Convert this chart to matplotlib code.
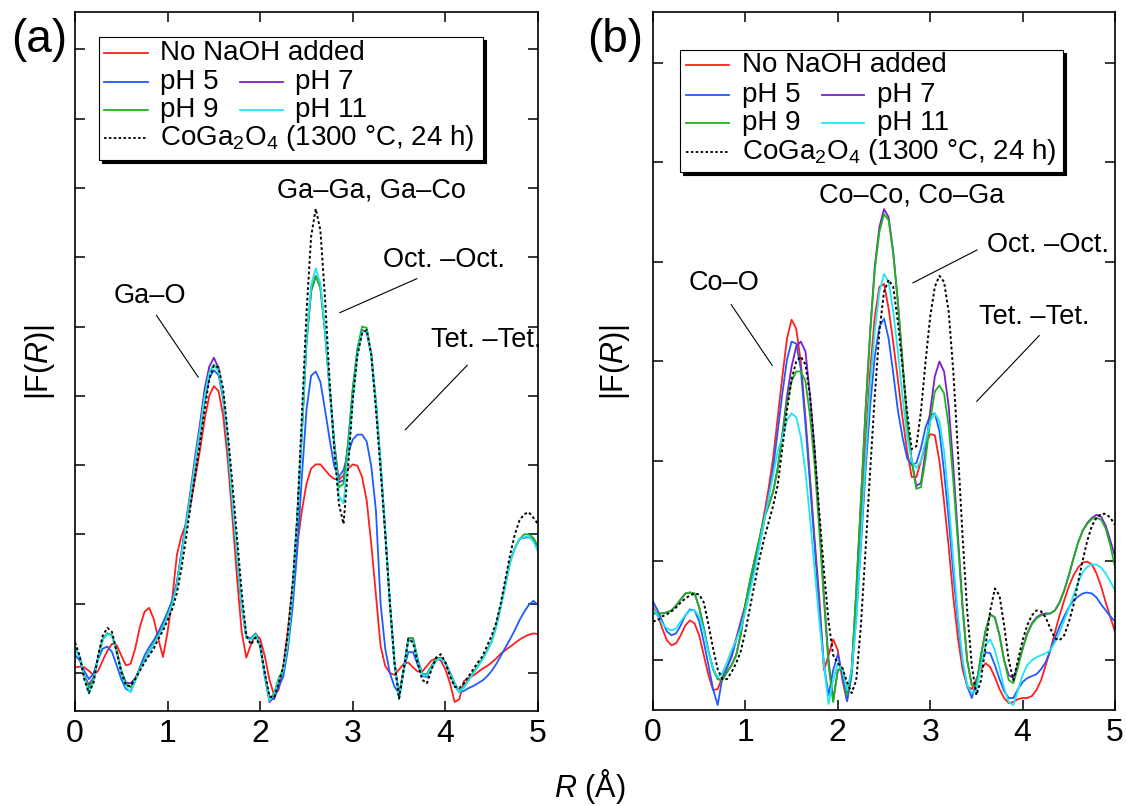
import numpy as np
import matplotlib
matplotlib.use('Agg')
import matplotlib.pyplot as plt
import matplotlib.patches as mpatches
import matplotlib.transforms as mtransforms

plt.rcParams['font.family'] = ['Liberation Sans', 'DejaVu Sans']
plt.rcParams['mathtext.fontset'] = 'custom'
plt.rcParams['mathtext.rm'] = 'Liberation Sans'
plt.rcParams['mathtext.it'] = 'Liberation Sans:italic'

# R grid (Angstrom), step 0.05
r = np.round(np.arange(0, 5.0001, 0.05), 2)

# ---- panel (a): Ga K-edge |F(R)|, arbitrary units
a_none = [0.08, 0.09, 0.08, 0.03, -0.03, 0.03, 0.18, 0.32, 0.42, 0.40,
          0.25, 0.11, 0.13, 0.35, 0.66, 0.88, 0.94, 0.78, 0.49, 0.23,
          0.59, 1.07, 1.70, 1.98, 2.15, 2.44, 2.83, 3.22, 3.66, 4.00,
          4.14, 4.07, 3.71, 3.07, 2.24, 1.37, 0.59, 0.22, 0.41, 0.56,
          0.49, 0.24, -0.10, -0.32, -0.24, 0.10, 0.63, 1.27, 1.85, 2.34,
          2.73, 2.95, 3.01, 3.01, 2.93, 2.85, 2.80, 2.79, 2.85, 2.95,
          3.01, 2.99, 2.83, 2.49, 1.85, 1.12, 0.39, 0.10, 0.00, -0.03,
          0.05, 0.13, 0.15, 0.08, 0.02, 0.02, 0.10, 0.18, 0.21, 0.18,
          0.05, -0.15, -0.42, -0.38, -0.12, -0.07, -0.04, 0.01, 0.06, 0.10,
          0.15, 0.21, 0.28, 0.33, 0.38, 0.43, 0.48, 0.52, 0.55, 0.57,
          0.56]
a_ph5 = [0.26, 0.18, 0.03, -0.09, -0.01, 0.20, 0.35, 0.38, 0.30, 0.11,
         -0.09, -0.23, -0.27, -0.11, 0.08, 0.25, 0.37, 0.47, 0.59, 0.73,
         0.88, 1.05, 1.30, 1.71, 2.12, 2.55, 3.02, 3.45, 3.92, 4.26,
         4.37, 4.30, 3.95, 3.30, 2.47, 1.70, 0.98, 0.52, 0.50, 0.57,
         0.40, -0.03, -0.36, -0.38, -0.20, -0.05, 0.35, 0.95, 1.76, 2.83,
         3.80, 4.29, 4.35, 4.20, 3.80, 3.37, 2.98, 2.83, 2.93, 3.17,
         3.37, 3.44, 3.44, 3.34, 2.98, 2.34, 1.00, 0.35, 0.00, -0.20,
         -0.30, 0.05, 0.30, 0.30, 0.12, -0.04, -0.06, 0.07, 0.18, 0.22,
         0.14, -0.02, -0.18, -0.28, -0.26, -0.22, -0.19, -0.15, -0.11, -0.05,
         0.03, 0.13, 0.25, 0.37, 0.49, 0.62, 0.76, 0.88, 0.98, 1.04,
         0.98]
a_ph7 = [0.36, 0.23, -0.04, -0.17, -0.07, 0.23, 0.49, 0.57, 0.54, 0.32,
         0.03, -0.14, -0.15, -0.08, 0.06, 0.18, 0.30, 0.42, 0.54, 0.66,
         0.83, 1.00, 1.30, 1.75, 2.20, 2.65, 3.15, 3.60, 4.10, 4.42,
         4.55, 4.40, 4.00, 3.32, 2.49, 1.71, 0.98, 0.51, 0.49, 0.56,
         0.39, -0.05, -0.42, -0.35, -0.12, 0.03, 0.44, 1.17, 2.24, 3.46,
         4.78, 5.51, 5.73, 5.56, 4.93, 4.10, 3.32, 2.75, 2.78, 3.32,
         4.10, 4.66, 4.95, 4.92, 4.59, 3.90, 3.02, 2.05, 1.02, 0.15,
         -0.34, 0.05, 0.50, 0.50, 0.20, -0.02, -0.02, 0.10, 0.20, 0.22,
         0.15, 0.00, -0.15, -0.27, -0.20, -0.10, 0.00, 0.10, 0.20, 0.32,
         0.46, 0.68, 0.98, 1.29, 1.61, 1.80, 1.93, 1.95, 1.96, 1.92,
         1.80]
a_ph9 = [0.36, 0.23, -0.04, -0.22, -0.09, 0.23, 0.49, 0.57, 0.54, 0.32,
         0.03, -0.16, -0.21, -0.09, 0.06, 0.18, 0.30, 0.42, 0.54, 0.66,
         0.83, 1.00, 1.27, 1.71, 2.15, 2.59, 3.07, 3.51, 4.00, 4.34,
         4.45, 4.37, 4.00, 3.32, 2.49, 1.71, 0.98, 0.51, 0.49, 0.56,
         0.39, -0.05, -0.39, -0.29, -0.07, 0.05, 0.44, 1.17, 2.24, 3.46,
         4.78, 5.51, 5.73, 5.56, 4.93, 4.10, 3.32, 2.68, 2.73, 3.32,
         4.10, 4.68, 5.00, 4.98, 4.59, 3.90, 3.02, 2.05, 1.02, 0.15,
         -0.34, 0.05, 0.50, 0.50, 0.20, -0.02, -0.02, 0.10, 0.20, 0.22,
         0.15, 0.00, -0.15, -0.27, -0.20, -0.10, 0.00, 0.10, 0.20, 0.32,
         0.46, 0.68, 0.98, 1.29, 1.61, 1.80, 1.93, 2.00, 2.00, 1.95,
         1.83]
a_ph11 = [0.36, 0.23, -0.05, -0.30, -0.12, 0.22, 0.48, 0.56, 0.53, 0.30,
          0.00, -0.20, -0.28, -0.12, 0.05, 0.17, 0.29, 0.41, 0.53, 0.65,
          0.82, 0.99, 1.26, 1.70, 2.14, 2.58, 3.06, 3.50, 3.99, 4.33,
          4.44, 4.36, 3.99, 3.31, 2.48, 1.70, 0.97, 0.50, 0.48, 0.55,
          0.38, -0.06, -0.40, -0.32, -0.10, 0.03, 0.44, 1.18, 2.26, 3.50,
          4.85, 5.60, 5.84, 5.62, 4.95, 4.10, 3.25, 2.55, 2.45, 3.15,
          3.95, 4.60, 4.92, 4.93, 4.56, 3.88, 3.00, 2.03, 1.00, 0.12,
          -0.38, 0.03, 0.47, 0.45, 0.18, -0.03, -0.04, 0.08, 0.18, 0.21,
          0.14, -0.01, -0.16, -0.28, -0.21, -0.11, -0.01, 0.09, 0.19, 0.31,
          0.45, 0.67, 0.97, 1.28, 1.60, 1.80, 1.93, 1.96, 1.97, 1.90,
          1.75]
a_ref = [0.44, 0.25, -0.09, -0.29, -0.14, 0.25, 0.54, 0.65, 0.59, 0.30,
         0.01, -0.18, -0.19, -0.09, 0.03, 0.15, 0.25, 0.35, 0.49, 0.61,
         0.76, 0.92, 1.15, 1.51, 1.95, 2.44, 2.88, 3.32, 3.80, 4.24,
         4.44, 4.41, 4.10, 3.46, 2.73, 1.95, 1.17, 0.54, 0.41, 0.51,
         0.39, 0.00, -0.34, -0.36, -0.15, 0.10, 0.59, 1.27, 2.24, 3.71,
         5.20, 6.30, 6.70, 6.39, 5.41, 4.20, 3.22, 2.44, 2.15, 2.98,
         3.95, 4.59, 4.90, 4.95, 4.59, 3.80, 2.93, 2.00, 1.02, 0.15,
         -0.37, 0.05, 0.49, 0.44, 0.15, -0.10, -0.15, 0.05, 0.22, 0.27,
         0.15, -0.05, -0.20, -0.22, -0.15, -0.05, 0.05, 0.15, 0.24, 0.39,
         0.54, 0.73, 1.02, 1.37, 1.71, 2.00, 2.20, 2.29, 2.32, 2.24,
         2.15]

# ---- panel (b): Co K-edge |F(R)|, arbitrary units
b_none = [0.54, 0.45, 0.32, 0.20, 0.15, 0.17, 0.25, 0.35, 0.40, 0.37,
          0.25, 0.05, -0.15, -0.30, -0.29, -0.17, -0.07, 0.05, 0.22, 0.39,
          0.56, 0.76, 0.97, 1.20, 1.45, 1.72, 2.03, 2.44, 2.85, 3.23,
          3.42, 3.33, 2.99, 2.44, 1.83, 1.21, 0.63, -0.10, 0.05, 0.21,
          0.10, -0.20, -0.41, -0.10, 0.55, 1.35, 2.15, 2.90, 3.45, 3.75,
          3.78, 3.53, 3.19, 2.82, 2.44, 2.10, 1.84, 1.84, 2.00, 2.17,
          2.27, 2.26, 2.00, 1.59, 1.14, 0.63, 0.22, -0.09, -0.26, -0.29,
          -0.19, -0.09, -0.03, -0.07, -0.17, -0.29, -0.38, -0.43, -0.42, -0.39,
          -0.38, -0.38, -0.36, -0.30, -0.20, -0.05, 0.10, 0.28, 0.45, 0.60,
          0.74, 0.85, 0.93, 0.98, 0.99, 0.96, 0.87, 0.74, 0.58, 0.43,
          0.29]
b_ph5 = [0.59, 0.50, 0.39, 0.29, 0.25, 0.27, 0.35, 0.45, 0.51, 0.50,
         0.39, 0.18, -0.05, -0.29, -0.45, -0.18, -0.08, 0.03, 0.20, 0.37,
         0.55, 0.74, 0.94, 1.15, 1.38, 1.64, 1.93, 2.30, 2.68, 3.02,
         3.20, 3.18, 2.92, 2.37, 1.76, 1.14, 0.53, -0.05, -0.35, -0.10,
         0.06, -0.15, -0.41, -0.15, 0.45, 1.15, 1.90, 2.55, 3.05, 3.35,
         3.43, 3.23, 2.88, 2.51, 2.24, 2.03, 1.96, 1.98, 2.13, 2.34,
         2.46, 2.48, 2.30, 1.89, 1.42, 0.87, 0.39, -0.02, -0.26, -0.38,
         -0.22, -0.02, 0.08, 0.07, -0.05, -0.19, -0.31, -0.38, -0.38, -0.29,
         -0.22, -0.18, -0.16, -0.14, -0.09, -0.02, 0.10, 0.22, 0.34, 0.44,
         0.53, 0.60, 0.64, 0.67, 0.68, 0.67, 0.63, 0.56, 0.50, 0.44,
         0.39]
b_ph7 = [0.47, 0.47, 0.47, 0.48, 0.50, 0.55, 0.61, 0.67, 0.68, 0.67,
         0.53, 0.32, 0.09, -0.09, -0.19, -0.20, -0.12, -0.05, 0.05, 0.26,
         0.56, 0.80, 1.01, 1.21, 1.42, 1.55, 1.69, 1.93, 2.27, 2.65,
         2.95, 3.15, 3.20, 3.10, 2.65, 2.10, 1.40, 0.65, 0.00, -0.40,
         -0.10, -0.08, -0.35, -0.10, 0.70, 1.60, 2.50, 3.30, 3.95, 4.35,
         4.53, 4.45, 4.10, 3.60, 3.00, 2.40, 2.00, 1.75, 1.78, 2.10,
         2.50, 2.85, 3.00, 2.90, 2.55, 1.95, 1.25, 0.55, 0.00, -0.25,
         -0.25, 0.05, 0.30, 0.46, 0.43, 0.25, 0.00, -0.15, -0.18, -0.05,
         0.12, 0.27, 0.37, 0.43, 0.46, 0.47, 0.47, 0.50, 0.58, 0.70,
         0.85, 1.02, 1.18, 1.30, 1.38, 1.43, 1.46, 1.44, 1.35, 1.20,
         1.04]
b_ph9 = [0.47, 0.47, 0.47, 0.48, 0.50, 0.55, 0.61, 0.67, 0.68, 0.67,
         0.53, 0.32, 0.09, -0.09, -0.19, -0.20, -0.12, -0.05, 0.05, 0.26,
         0.56, 0.80, 1.01, 1.21, 1.42, 1.55, 1.69, 1.93, 2.25, 2.58,
         2.80, 2.90, 2.90, 2.80, 2.45, 1.95, 1.30, 0.60, -0.05, -0.42,
         -0.10, -0.08, -0.35, -0.10, 0.70, 1.60, 2.50, 3.28, 3.92, 4.30,
         4.48, 4.42, 4.08, 3.60, 3.00, 2.40, 2.00, 1.72, 1.74, 2.02,
         2.40, 2.70, 2.76, 2.68, 2.35, 1.80, 1.18, 0.52, 0.00, -0.25,
         -0.25, 0.05, 0.30, 0.46, 0.43, 0.25, 0.00, -0.20, -0.23, -0.07,
         0.11, 0.26, 0.36, 0.42, 0.45, 0.46, 0.47, 0.50, 0.58, 0.70,
         0.85, 1.02, 1.18, 1.30, 1.37, 1.42, 1.43, 1.41, 1.32, 1.15,
         0.94]
b_ph11 = [0.52, 0.45, 0.37, 0.32, 0.30, 0.32, 0.39, 0.45, 0.50, 0.50,
          0.44, 0.29, 0.08, -0.08, -0.17, -0.13, -0.02, 0.10, 0.20, 0.32,
          0.49, 0.70, 0.90, 1.14, 1.38, 1.62, 1.86, 2.10, 2.24, 2.41,
          2.48, 2.44, 2.24, 1.89, 1.42, 0.90, 0.39, -0.05, -0.44, -0.20,
          -0.03, -0.10, -0.30, -0.10, 0.40, 1.20, 2.00, 2.75, 3.30, 3.70,
          3.88, 3.80, 3.50, 3.10, 2.65, 2.25, 2.00, 1.93, 2.00, 2.20,
          2.40, 2.48, 2.40, 2.10, 1.60, 1.00, 0.45, 0.00, -0.25, -0.33,
          -0.30, -0.05, 0.15, 0.21, 0.10, -0.08, -0.28, -0.42, -0.45, -0.30,
          -0.15, -0.05, 0.00, 0.03, 0.05, 0.07, 0.10, 0.18, 0.28, 0.40,
          0.52, 0.65, 0.78, 0.88, 0.94, 0.96, 0.96, 0.93, 0.87, 0.79,
          0.70]
b_ref = [0.39, 0.40, 0.44, 0.46, 0.49, 0.53, 0.58, 0.62, 0.65, 0.67,
         0.66, 0.58, 0.36, 0.12, -0.09, -0.19, -0.19, -0.12, -0.03, 0.09,
         0.29, 0.53, 0.77, 1.01, 1.21, 1.38, 1.55, 1.76, 2.13, 2.51,
         2.82, 3.00, 3.05, 2.97, 2.65, 2.10, 1.48, 0.90, 0.39, 0.05,
         -0.03, -0.08, -0.22, -0.33, -0.20, 0.35, 1.10, 1.90, 2.65, 3.30,
         3.70, 3.82, 3.75, 3.40, 2.95, 2.50, 2.12, 2.15, 2.50, 3.00,
         3.45, 3.75, 3.86, 3.80, 3.50, 2.90, 2.10, 1.25, 0.50, -0.05,
         -0.35, -0.20, 0.15, 0.50, 0.72, 0.65, 0.35, 0.00, -0.20, 0.00,
         0.20, 0.35, 0.45, 0.50, 0.49, 0.43, 0.32, 0.22, 0.20, 0.25,
         0.38, 0.55, 0.78, 1.00, 1.20, 1.35, 1.43, 1.47, 1.47, 1.43,
         1.36]

labels = ['No NaOH added', 'pH 5', 'pH 7', 'pH 9', 'pH 11',
          'CoGa$_2$O$_4$ (1300 °C, 24 h)']
colors = ['#ff1f1f', '#1f5cff', '#7a1fd0', '#1db51d', '#1fe6f2', 'black']
styles = ['-', '-', '-', '-', '-', (0, (1.4, 1.3))]
# legend slots (column, row)
slots = [(0, 0), (0, 1), (1, 1), (0, 2), (1, 2), (0, 3)]

series_a = [a_none, a_ph5, a_ph7, a_ph9, a_ph11, a_ref]
series_b = [b_none, b_ph5, b_ph7, b_ph9, b_ph11, b_ref]

fig = plt.figure(figsize=(11.26, 8.06), dpi=100)
ax1 = fig.add_axes([75/1126, 95/806, 463/1126, 699/806])
ax2 = fig.add_axes([653/1126, 96/806, 462/1126, 698/806])

FS = 19.5


def style_axes(ax, ymin, ymax, nticks):
    ax.set_xlim(0, 5)
    ax.set_ylim(ymin, ymax)
    ax.set_xticks(range(6))
    ax.set_yticks(range(nticks))
    ax.tick_params(direction='in', length=7.5, width=1.1, top=True, right=True,
                   labelleft=False, labelsize=23, pad=6)
    for s in ax.spines.values():
        s.set_linewidth(1.2)


def draw_key(ax, box, hx, tx, rows):
    x0, y0, x1, y1 = box
    sh = mtransforms.offset_copy(ax.transAxes, fig=fig, x=3, y=-3, units='dots')
    ax.add_patch(mpatches.Rectangle((x0, y0), x1 - x0, y1 - y0, transform=sh,
                                    fc='black', ec='black', lw=0.8, zorder=9, clip_on=False))
    ax.add_patch(mpatches.Rectangle((x0, y0), x1 - x0, y1 - y0, transform=ax.transAxes,
                                    fc='white', ec='black', lw=0.8, zorder=10, clip_on=False))
    for lab, c, ls, (col, row) in zip(labels, colors, styles, slots):
        y = rows[row]
        ax.plot(hx[col], [y, y], transform=ax.transAxes, color=c, ls=ls,
                lw=1.3, zorder=11, clip_on=False)
        ax.text(tx[col], y, lab, transform=ax.transAxes, va='center', ha='left',
                fontsize=20, zorder=11)


for ax, data in ((ax1, series_a), (ax2, series_b)):
    for vals, c, ls in zip(data, colors, styles):
        ax.plot(r, vals, color=c, ls=ls, lw=1.3 if ls == '-' else 1.4)

style_axes(ax1, -0.55, 9.54, 10)
style_axes(ax2, -0.5, 6.51, 7)

draw_key(ax1, (0.052, 0.788, 0.881, 0.964),
         [(0.063, 0.158), (0.356, 0.449)], [0.184, 0.475],
         [0.941, 0.900, 0.860, 0.820])
draw_key(ax2, (0.058, 0.771, 0.887, 0.946),
         [(0.071, 0.165), (0.366, 0.457)], [0.193, 0.485],
         [0.924, 0.881, 0.841, 0.799])

# peak assignments, panel (a)
ax1.text(0.81, 5.44, 'Ga–O', ha='center', va='center', fontsize=FS)
ax1.plot([0.88, 1.33], [5.16, 4.27], color='black', lw=0.8)
ax1.text(3.20, 6.97, 'Ga–Ga, Ga–Co', ha='center', va='center', fontsize=FS)
ax1.text(3.985, 5.96, 'Oct. –Oct.', ha='center', va='center', fontsize=FS)
ax1.plot([3.69, 2.86], [5.69, 5.20], color='black', lw=0.8)
ax1.text(4.44, 4.80, 'Tet. –Tet.', ha='center', va='center', fontsize=FS)
ax1.plot([4.235, 3.567], [4.44, 3.51], color='black', lw=0.8)

# peak assignments, panel (b)
ax2.text(0.765, 3.79, 'Co–O', ha='center', va='center', fontsize=FS)
ax2.plot([0.847, 1.29], [3.57, 2.96], color='black', lw=0.8)
ax2.text(2.80, 4.67, 'Co–Co, Co–Ga', ha='center', va='center', fontsize=FS)
ax2.text(4.27, 4.17, 'Oct. –Oct.', ha='center', va='center', fontsize=FS)
ax2.plot([3.507, 2.813], [4.12, 3.79], color='black', lw=0.8)
ax2.text(4.125, 3.45, 'Tet. –Tet.', ha='center', va='center', fontsize=FS)
ax2.plot([4.18, 3.504], [3.26, 2.60], color='black', lw=0.8)

fig.text(39/1126, 1 - 40/806, '(a)', ha='center', va='center', fontsize=33)
fig.text(615/1126, 1 - 40/806, '(b)', ha='center', va='center', fontsize=33)
fig.text(40/1126, 1 - 362/806, '|F($\\it{R}$)|', rotation=90, ha='center', va='center', fontsize=22)
fig.text(615/1126, 1 - 362/806, '|F($\\it{R}$)|', rotation=90, ha='center', va='center', fontsize=22)
fig.text(590/1126, 1 - 787/806, '$\\it{R}$ (Å)', ha='center', va='center', fontsize=22)

fig.savefig('out.png', dpi=100)
